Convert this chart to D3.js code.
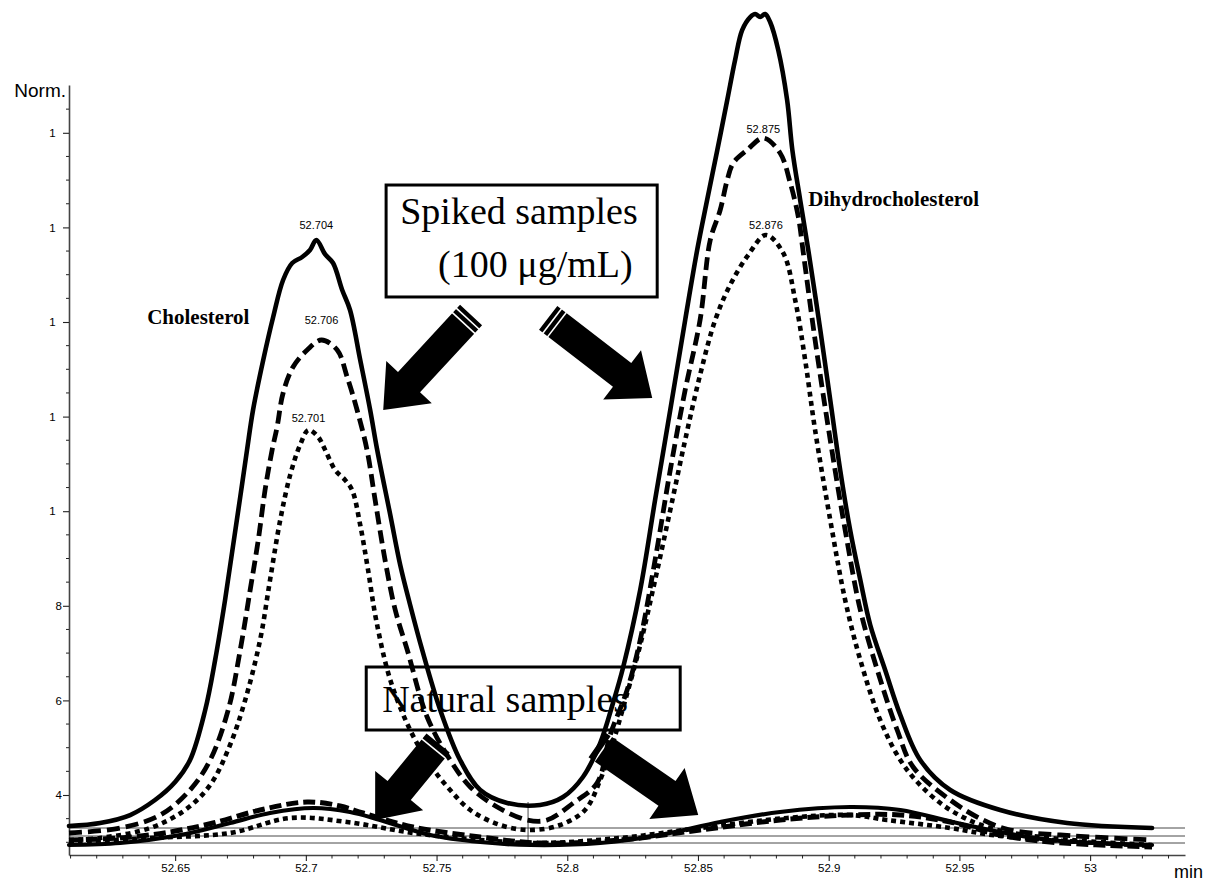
<!DOCTYPE html>
<html>
<head>
<meta charset="utf-8">
<script src="https://cdn.jsdelivr.net/npm/d3@7"></script>
<style>
  html, body { margin: 0; padding: 0; background: #fff; }
  svg { display: block; }
</style>
</head>
<body>
<svg id="chart" width="1218" height="884"></svg>
<script>
// Traces: [retention time (min), normalised response]

// Spiked samples (100 µg/mL)
const spikedSolid = [
  [52.6094,3.345],[52.6213,3.408],[52.6328,3.577],[52.6423,3.894],[52.6500,4.275],[52.6557,4.740],
  [52.6615,5.797],[52.6653,6.854],[52.6691,8.123],[52.6722,9.285],[52.6749,10.300],[52.6775,11.294],
  [52.6798,12.140],[52.6837,13.197],[52.6875,14.106],[52.6913,14.888],[52.6948,15.247],[52.6986,15.374],
  [52.7016,15.522],[52.7040,15.734],[52.7074,15.430],[52.7104,15.247],[52.7139,14.677],[52.7169,14.254],
  [52.7208,13.197],[52.7246,12.140],[52.7273,11.294],[52.7323,9.920],[52.7361,8.863],[52.7399,8.017],
  [52.7445,7.066],[52.7514,5.797],[52.7590,4.740],[52.7667,4.106],[52.7770,3.831],[52.7896,3.789],
  [52.7984,3.958],[52.8060,4.381],[52.8126,5.099],[52.8175,5.945],[52.8214,6.706],[52.8279,8.334],
  [52.8336,10.237],[52.8394,12.140],[52.8451,14.042],[52.8497,15.522],[52.8535,16.579],[52.8574,17.636],
  [52.8612,18.693],[52.8642,19.539],[52.8669,20.173],[52.8700,20.448],[52.8719,20.512],[52.8738,20.448],
  [52.8757,20.512],[52.8776,20.342],[52.8807,19.751],[52.8841,18.693],[52.8861,17.636],[52.8891,16.579],
  [52.8922,15.522],[52.8968,13.831],[52.9006,12.351],[52.9044,10.871],[52.9082,9.602],[52.9121,8.545],
  [52.9159,7.594],[52.9216,6.643],[52.9274,5.691],[52.9350,4.740],[52.9465,4.106],[52.9656,3.683],
  [52.9912,3.408],[53.0237,3.302]
];
const spikedDashed = [
  [52.6094,3.197],[52.6290,3.302],[52.6443,3.577],[52.6557,4.106],[52.6634,4.740],[52.6703,5.797],
  [52.6749,7.066],[52.6787,8.334],[52.6818,9.391],[52.6844,10.448],[52.6871,11.294],[52.6890,11.780],
  [52.6913,12.499],[52.6951,13.049],[52.7005,13.408],[52.7060,13.619],[52.7120,13.408],[52.7158,12.837],
  [52.7196,12.140],[52.7234,11.294],[52.7265,10.237],[52.7303,8.968],[52.7342,7.911],[52.7388,7.066],
  [52.7464,5.649],[52.7552,4.740],[52.7629,4.169],[52.7732,3.746],[52.7847,3.471],[52.7923,3.471],
  [52.8023,3.831],[52.8114,4.254],[52.8164,5.268],[52.8229,6.220],[52.8279,7.277],[52.8336,8.968],
  [52.8394,10.871],[52.8451,12.562],[52.8508,14.042],[52.8547,15.734],[52.8585,16.368],[52.8612,17.002],
  [52.8635,17.362],[52.8688,17.636],[52.8750,17.890],[52.8814,17.573],[52.8853,16.939],[52.8884,16.220],
  [52.8903,15.459],[52.8948,13.619],[52.9006,11.505],[52.9063,9.602],[52.9121,7.911],[52.9186,6.643],
  [52.9262,5.374],[52.9323,4.592],[52.9465,3.894],[52.9591,3.471],[52.9694,3.260],[52.9886,3.154],
  [53.0237,3.049]
];
const spikedDotted = [
  [52.6094,3.049],[52.6213,3.091],[52.6404,3.302],[52.6538,3.683],[52.6634,4.211],[52.6710,5.057],
  [52.6768,6.008],[52.6825,7.277],[52.6863,8.545],[52.6902,9.814],[52.6940,10.765],[52.6978,11.400],
  [52.7010,11.717],[52.7047,11.569],[52.7074,11.294],[52.7112,10.871],[52.7150,10.660],[52.7177,10.448],
  [52.7208,9.708],[52.7238,8.757],[52.7269,7.700],[52.7323,6.431],[52.7399,5.374],[52.7476,4.634],
  [52.7552,4.106],[52.7629,3.683],[52.7743,3.366],[52.7858,3.260],[52.7973,3.366],[52.8068,3.683],
  [52.8126,4.317],[52.8172,5.057],[52.8222,6.008],[52.8279,7.171],[52.8336,8.545],[52.8394,10.025],
  [52.8451,11.505],[52.8508,12.879],[52.8566,14.042],[52.8623,14.782],[52.8692,15.416],[52.8760,15.839],
  [52.8826,15.459],[52.8872,14.461],[52.8910,13.197],[52.8948,11.717],[52.9006,9.814],[52.9063,8.123],
  [52.9121,6.854],[52.9197,5.586],[52.9274,4.740],[52.9350,4.211],[52.9465,3.683],[52.9618,3.302],
  [52.9847,3.091],[53.0237,2.943]
];

// Natural samples
const naturalSolid = [
  [52.6094,2.943],[52.6290,2.985],[52.6519,3.154],[52.6710,3.408],[52.6863,3.619],[52.7028,3.725],
  [52.7169,3.641],[52.7284,3.471],[52.7476,3.154],[52.7667,3.006],[52.7858,2.943],[52.8126,2.985],
  [52.8355,3.154],[52.8585,3.429],[52.8814,3.641],[52.9082,3.746],[52.9274,3.683],[52.9474,3.429],
  [52.9656,3.218],[52.9847,3.049],[53.0237,2.943]
];
const naturalDashed = [
  [52.6094,3.049],[52.6290,3.091],[52.6481,3.218],[52.6645,3.408],[52.6825,3.683],[52.7005,3.852],
  [52.7131,3.767],[52.7219,3.619],[52.7410,3.323],[52.7667,3.112],[52.7896,2.985],[52.8202,3.049],
  [52.8508,3.260],[52.8814,3.471],[52.9082,3.577],[52.9274,3.577],[52.9465,3.429],[52.9656,3.154],
  [52.9847,3.006],[53.0237,2.901]
];
const naturalDotted = [
  [52.6094,3.006],[52.6404,3.091],[52.6710,3.197],[52.6940,3.514],[52.7158,3.429],[52.7410,3.197],
  [52.7667,3.049],[52.7896,2.985],[52.8202,3.091],[52.8508,3.302],[52.8841,3.514],[52.9082,3.577],
  [52.9224,3.471],[52.9465,3.302],[52.9656,3.133],[53.0237,2.922]
];

// Flat reference baselines and the retention-time marker
const baselineLevels = [3.302, 3.133, 2.985];
const markerTime = 52.785;
const markerRange = [3.852, 3.049];

// Axis ticks
const xTickValues = [52.65, 52.7, 52.75, 52.8, 52.85, 52.9, 52.95, 53];
const xTickLabels = ["52.65", "52.7", "52.75", "52.8", "52.85", "52.9", "52.95", "53"];
const yTickValues = [4, 6, 8, 10, 12, 14, 16, 18];
const yTickLabels = ["4", "6", "8", "1", "1", "1", "1", "1"];

// Apex labels
const peakLabelTexts = ["52.704", "52.706", "52.701", "52.875", "52.876"];
const peakLabelTimes = [52.704, 52.706, 52.701, 52.875, 52.876];
const peakLabelTraces = ["spikedSolid", "spikedDashed", "spikedDotted", "spikedDashed", "spikedDotted"];

// ---------------------------------------------------------------
const svg = d3.select("#chart");
const W = 1218, H = 884;
svg.append("rect").attr("width", W).attr("height", H).attr("fill", "#fff");

const x = d3.scaleLinear().domain([52.6094, 53.0363]).range([69, 1185]);
const y = d3.scaleLinear().domain([4 - 60 / 47.3, 4 + 710 / 47.3]).range([855, 85]);

const traces = {
  spikedSolid, spikedDashed, spikedDotted, naturalSolid, naturalDashed, naturalDotted
};
const traceStyle = {
  naturalDotted: { width: 4.6, dash: "5,4" },
  naturalDashed: { width: 5, dash: "12,5" },
  naturalSolid:  { width: 4.2, dash: null },
  spikedDotted:  { width: 4.6, dash: "5,4.5" },
  spikedDashed:  { width: 4.8, dash: "13,6" },
  spikedSolid:   { width: 4.6, dash: null }
};

const serif = "'Liberation Serif', 'Times New Roman', Times, serif";
const sans = "'Liberation Sans', Arial, Helvetica, sans-serif";

// Baselines
const gBase = svg.append("g");
baselineLevels.forEach(v => {
  gBase.append("line")
    .attr("x1", x(x.domain()[0])).attr("x2", x(x.domain()[1]))
    .attr("y1", y(v)).attr("y2", y(v))
    .attr("stroke", "#333").attr("stroke-width", 0.9);
});
gBase.append("line")
  .attr("x1", x(markerTime)).attr("x2", x(markerTime))
  .attr("y1", y(markerRange[0])).attr("y2", y(markerRange[1]))
  .attr("stroke", "#333").attr("stroke-width", 0.9);

// Y axis
const yAxisG = svg.append("g").attr("transform", `translate(${x.range()[0]},0)`);
yAxisG.call(d3.axisLeft(y).tickValues(yTickValues).tickSize(6).tickSizeOuter(0)
  .tickFormat((d, i) => yTickLabels[i]));
yAxisG.select(".domain").attr("stroke", "#444").attr("stroke-width", 1.6);
yAxisG.selectAll(".tick line").attr("stroke", "#222").attr("stroke-width", 1.1);
// labels are left-aligned where the full numeral would start
const digitW = 6.4;
yAxisG.selectAll(".tick text")
  .attr("font-family", sans).attr("font-size", 11.5).attr("fill", "#000")
  .attr("text-anchor", "start")
  .attr("x", d => -7 - String(d).length * digitW);
const yMinor = d3.range(3, 19, 0.5).filter(v => !yTickValues.includes(v));
yAxisG.selectAll(".minor").data(yMinor).join("line")
  .attr("x1", -3).attr("x2", 0)
  .attr("y1", d => y(d)).attr("y2", d => y(d))
  .attr("stroke", "#222").attr("stroke-width", 1);

svg.append("text").text("Norm.")
  .attr("x", 66).attr("y", 97)
  .attr("text-anchor", "end")
  .attr("font-family", sans).attr("font-size", 19).attr("fill", "#000");

// X axis
const xAxisG = svg.append("g").attr("transform", `translate(0,${y.range()[0]})`);
xAxisG.call(d3.axisBottom(x).tickValues(xTickValues).tickSize(6).tickSizeOuter(0).tickPadding(3)
  .tickFormat((d, i) => xTickLabels[i]));
xAxisG.select(".domain").attr("stroke", "#444").attr("stroke-width", 1.4);
xAxisG.selectAll(".tick line").attr("stroke", "#222").attr("stroke-width", 1.1);
xAxisG.selectAll(".tick text")
  .attr("font-family", sans).attr("font-size", 11.5).attr("fill", "#000");
const xMinor = d3.range(52.61, 53.035, 0.01)
  .filter(v => !xTickValues.some(t => Math.abs(t - v) < 1e-6));
xAxisG.selectAll(".minor").data(xMinor).join("line")
  .attr("x1", d => x(d)).attr("x2", d => x(d))
  .attr("y1", 0).attr("y2", 3.5)
  .attr("stroke", "#222").attr("stroke-width", 1);

svg.append("text").text("min")
  .attr("x", 1203).attr("y", 878)
  .attr("text-anchor", "end")
  .attr("font-family", sans).attr("font-size", 18).attr("fill", "#000");

// Annotation boxes (positioned in time / response units)
const boxes = [
  { t0: 52.7307, t1: 52.8344, v0: 16.896, v1: 14.529,
    lines: [ { text: "Spiked samples", t: 52.7361, v: 16.07 },
             { text: "(100 \u03bcg/mL)", t: 52.7506, v: 14.95 } ] },
  { t0: 52.7231, t1: 52.8432, v0: 6.706, v1: 5.374,
    lines: [ { text: "Natural samples", t: 52.7292, v: 5.755 } ] }
];
const gBox = svg.append("g");
boxes.forEach(b => {
  gBox.append("rect")
    .attr("x", x(b.t0)).attr("y", y(b.v0))
    .attr("width", x(b.t1) - x(b.t0)).attr("height", y(b.v1) - y(b.v0))
    .attr("fill", "none").attr("stroke", "#000").attr("stroke-width", 3);
  b.lines.forEach(l => {
    gBox.append("text").text(l.text)
      .attr("x", x(l.t)).attr("y", y(l.v))
      .attr("font-family", serif).attr("font-size", 38).attr("fill", "#000");
  });
});

// Block arrows with white cut stripes near the tail
const arrows = [
  { tail: [52.7632, 14.148], tip: [52.7296, 12.140], stripes: [5, 11] },
  { tail: [52.7927, 14.085], tip: [52.8325, 12.393], stripes: [5, 11] },
  { tail: [52.7506, 5.099],  tip: [52.7265, 3.471],  stripes: [7] },
  { tail: [52.8114, 5.057],  tip: [52.8501, 3.577],  stripes: [7] }
];
const gArrow = svg.append("g");
arrows.forEach(a => {
  const p0 = [x(a.tail[0]), y(a.tail[1])];
  const p1 = [x(a.tip[0]), y(a.tip[1])];
  const dx = p1[0] - p0[0], dy = p1[1] - p0[1];
  const len = Math.hypot(dx, dy);
  const u = [dx / len, dy / len], n = [-u[1], u[0]];
  const w = 15, hw = 31, hl = 38;
  const b = [p1[0] - u[0] * hl, p1[1] - u[1] * hl];
  const pts = [
    [p0[0] + n[0] * w, p0[1] + n[1] * w],
    [b[0] + n[0] * w, b[1] + n[1] * w],
    [b[0] + n[0] * hw, b[1] + n[1] * hw],
    p1,
    [b[0] - n[0] * hw, b[1] - n[1] * hw],
    [b[0] - n[0] * w, b[1] - n[1] * w],
    [p0[0] - n[0] * w, p0[1] - n[1] * w]
  ];
  gArrow.append("polygon")
    .attr("points", pts.map(p => p.join(",")).join(" "))
    .attr("fill", "#000");
  a.stripes.forEach(s => {
    const c = [p0[0] + u[0] * s, p0[1] + u[1] * s];
    gArrow.append("line")
      .attr("x1", c[0] + n[0] * (w + 1)).attr("y1", c[1] + n[1] * (w + 1))
      .attr("x2", c[0] - n[0] * (w + 1)).attr("y2", c[1] - n[1] * (w + 1))
      .attr("stroke", "#fff").attr("stroke-width", 1.6);
  });
});

// Traces
const line = d3.line()
  .x(d => x(d[0])).y(d => y(d[1]))
  .curve(d3.curveCatmullRom.alpha(0.5));
const gTrace = svg.append("g");
Object.keys(traceStyle).forEach(k => {
  const st = traceStyle[k];
  gTrace.append("path")
    .datum(traces[k])
    .attr("d", line)
    .attr("fill", "none")
    .attr("stroke", "#000")
    .attr("stroke-width", st.width)
    .attr("stroke-linejoin", "round")
    .attr("stroke-dasharray", st.dash)
    .attr("stroke-linecap", st.dash ? "butt" : "round");
});

// Apex labels, just above each apex
const labelLift = [11, 16, 8, 5, 6];
peakLabelTexts.forEach((txt, i) => {
  const tr = traces[peakLabelTraces[i]];
  const apex = tr.reduce((best, d) =>
    Math.abs(d[0] - peakLabelTimes[i]) < Math.abs(best[0] - peakLabelTimes[i]) ? d : best);
  svg.append("text").text(txt)
    .attr("x", x(peakLabelTimes[i])).attr("y", y(apex[1]) - labelLift[i])
    .attr("text-anchor", "middle")
    .attr("font-family", sans).attr("font-size", 11).attr("fill", "#000");
});

// Compound names
const compounds = [
  { text: "Cholesterol", t: 52.6393, v: 13.958 },
  { text: "Dihydrocholesterol", t: 52.8922, v: 16.452 }
];
compounds.forEach(c => {
  svg.append("text").text(c.text)
    .attr("x", x(c.t)).attr("y", y(c.v))
    .attr("font-family", serif).attr("font-weight", "bold")
    .attr("font-size", 21).attr("fill", "#000");
});
</script>
</body>
</html>
